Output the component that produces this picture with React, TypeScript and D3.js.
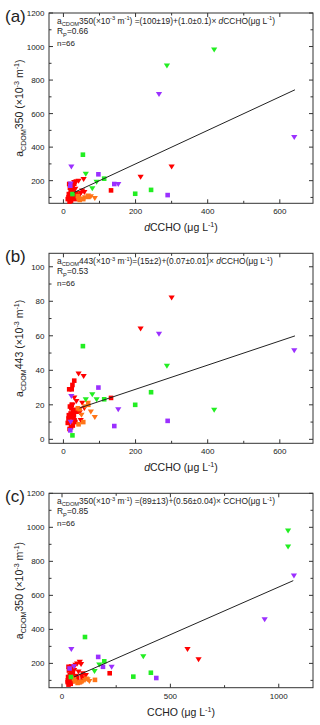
import React, { useEffect, useRef } from 'react';
import * as d3 from 'd3';

// each sample: [dCCHO, CCHO, aCDOM350, aCDOM443]
const redSquares = [
  [132, 220, 142, 24], [30, 42, 182, 34], [25, 38, 172, 31.5], [16, 30, 180, 29],
  [23, 36, 176, 29], [18, 32, 158, 19], [22, 45, 150, 18], [27, 50, 142, 16],
  [20, 36, 130, 15], [15, 28, 120, 14], [24, 42, 110, 13], [28, 55, 100, 12],
  [12, 26, 90, 9.5], [19, 33, 85, 10], [26, 48, 95, 8], [21, 40, 80, 7],
  [17, 30, 75, 6], [31, 60, 105, 11], [35, 65, 125, 17], [14, 27, 100, 12],
  [29, 70, 115, 14], [23, 44, 135, 20], [33, 80, 90, 10], [38, 95, 110, 16],
  [20, 50, 165, 13],
];
const redTriangles = [
  [300, 579, 283, 82], [214, 630, 222, 64], [56, 82, 208, 36.5], [42, 70, 198, 38],
  [36, 88, 195, 22], [30, 62, 190, 24], [52, 96, 140, 21], [48, 90, 125, 11],
  [45, 100, 115, 15.5], [26, 56, 160, 20], [33, 76, 150, 17], [58, 110, 130, 18],
];
const orangeSquares = [
  [69, 152, 103, 20], [42, 60, 95, 8.7], [40, 56, 108, 18], [45, 72, 85, 17.5], [55, 82, 90, 10],
];
const orangeTriangles = [
  [76, 118, 105, 16], [87, 126, 95, 12.8], [60, 106, 100, 19], [68, 112, 110, 21], [50, 96, 92, 14],
];
const purpleSquares = [
  [97, 167, 238, 30], [289, 435, 114, 10.7], [141, 189, 180, 7.7], [19, 35, 170, 5.2],
];
const purpleTriangles = [
  [265, 1070, 715, 61], [640, 935, 458, 51.4], [22, 43, 283, 25], [152, 229, 178, 17.2], [20, 55, 182, 10],
];
const greenSquares = [
  [54, 106, 355, 54], [113, 195, 212, 23.2], [199, 329, 122, 20], [243, 410, 145, 27.3], [25, 41, 120, 2.3],
];
const greenTriangles = [
  [418, 1043, 980, 17], [287, 1043, 885, 42.5], [62, 375, 240, 23], [92, 172, 192, 23], [80, 150, 153, 26],
];

const xTicksD = [0, 200, 400, 600];
const xTicksC = [0, 500, 1000];
const yTicks350 = [200, 400, 600, 800, 1000, 1200];
const yTicks443 = [0, 20, 40, 60, 80, 100];

const RED = '#ff0000';
const ORANGE = '#ff7518';
const PURPLE = '#9b30ff';
const GREEN = '#22ee22';

const groups = [
  { data: redSquares, color: RED, shape: 'sq' },
  { data: redTriangles, color: RED, shape: 'tri' },
  { data: orangeSquares, color: ORANGE, shape: 'sq' },
  { data: orangeTriangles, color: ORANGE, shape: 'tri' },
  { data: purpleSquares, color: PURPLE, shape: 'sq' },
  { data: purpleTriangles, color: PURPLE, shape: 'tri' },
  { data: greenSquares, color: GREEN, shape: 'sq' },
  { data: greenTriangles, color: GREEN, shape: 'tri' },
];

type Part = { t: string; sub?: boolean; sup?: boolean; it?: boolean };

const aLabel = (wl: string): Part[] => [
  { t: 'a' }, { t: 'CDOM', sub: true }, { t: wl },
];
const unitPart: Part[] = [
  { t: '(×10' }, { t: '-3', sup: true }, { t: ' m' }, { t: '-1', sup: true }, { t: ')' },
];
const ugL = (pre: Part[]): Part[] => [...pre, { t: '(μg L' }, { t: '-1', sup: true }, { t: ')' }];

const panels = [
  {
    label: '(a)', top: 13, bottom: 203.3, xi: 0, yi: 2,
    xDomain: [-40, 692], yDomain: [65, 1200], xTicks: xTicksD, xMinor: 100, yTicks: yTicks350, yMinor: 100,
    fit: [100, 1.0], fitRange: [30, 642],
    eq: [...aLabel('350'), ...unitPart, { t: ' =(100±19)+(1.0±0.1)× ' }, { t: 'd', it: true }, ...ugL([{ t: 'CCHO' }])],
    r: '=0.66',
    xTitle: [{ t: 'd', it: true }, { t: 'CCHO ' }, ...ugL([])],
    yTitle: [...aLabel('350'), { t: ' ' }, ...unitPart],
  },
  {
    label: '(b)', top: 253.3, bottom: 443.3, xi: 0, yi: 3,
    xDomain: [-40, 692], yDomain: [-2.3, 107.8], xTicks: xTicksD, xMinor: 100, yTicks: yTicks443, yMinor: 10,
    fit: [15, 0.07], fitRange: [45, 642],
    eq: [...aLabel('443'), ...unitPart, { t: '=(15±2)+(0.07±0.01)× ' }, { t: 'd', it: true }, ...ugL([{ t: 'CCHO' }])],
    r: '=0.53',
    xTitle: [{ t: 'd', it: true }, { t: 'CCHO ' }, ...ugL([])],
    yTitle: [...aLabel('443'), { t: ' ' }, ...unitPart],
  },
  {
    label: '(c)', top: 493.3, bottom: 687.7, xi: 1, yi: 2,
    xDomain: [-60, 1158], yDomain: [57, 1200], xTicks: xTicksC, xMinor: 250, yTicks: yTicks350, yMinor: 100,
    fit: [89, 0.56], fitRange: [55, 1067],
    eq: [...aLabel('350'), ...unitPart, { t: ' =(89±13)+(0.56±0.04)× CCHO' }, ...ugL([])],
    r: '=0.85',
    xTitle: [{ t: 'CCHO ' }, ...ugL([])],
    yTitle: [...aLabel('350'), { t: ' ' }, ...unitPart],
  },
];

const LEFT = 49;
const RIGHT = 313;
const FONT = 'Arial, "Liberation Sans", sans-serif';

function richText(g: any, x: number, y: number, parts: Part[], size: number, anchor: string, rotate = false) {
  const text = g.append('text')
    .attr('x', x).attr('y', y)
    .attr('text-anchor', anchor)
    .attr('font-size', size)
    .attr('font-family', FONT)
    .attr('fill', '#222');
  if (rotate) text.attr('transform', `rotate(-90,${x},${y})`);
  let off = 0;
  parts.forEach((p) => {
    const target = p.sub ? size * 0.3 : p.sup ? -size * 0.38 : 0;
    const ts = text.append('tspan')
      .attr('dy', target - off)
      .attr('font-size', p.sub || p.sup ? size * 0.68 : size)
      .text(p.t);
    if (p.it) ts.attr('font-style', 'italic');
    off = target;
  });
  return text;
}

const ChartPanels = () => {
  const ref = useRef<SVGSVGElement>(null);

  useEffect(() => {
    if (!ref.current) return;
    const svg = d3.select(ref.current);
    svg.selectAll('*').remove();

    panels.forEach((p) => {
      const g = svg.append('g');
      const x = d3.scaleLinear().domain(p.xDomain).range([LEFT, RIGHT]);
      const y = d3.scaleLinear().domain(p.yDomain).range([p.bottom, p.top]);

      // frame
      g.append('rect')
        .attr('x', LEFT).attr('y', p.top)
        .attr('width', RIGHT - LEFT).attr('height', p.bottom - p.top)
        .attr('fill', 'none').attr('stroke', '#333').attr('stroke-width', 1);

      // ticks (inward, all four sides)
      const xMinorVals = d3.range(0, p.xDomain[1], p.xMinor).filter((v) => !p.xTicks.includes(v));
      const yMinorVals = d3.range(Math.ceil(p.yDomain[0] / p.yMinor) * p.yMinor, p.yDomain[1], p.yMinor)
        .filter((v) => !p.yTicks.includes(v));
      const tick = (x1: number, y1: number, x2: number, y2: number) =>
        g.append('line').attr('x1', x1).attr('y1', y1).attr('x2', x2).attr('y2', y2)
          .attr('stroke', '#333').attr('stroke-width', 1);
      p.xTicks.forEach((v) => { tick(x(v), p.bottom, x(v), p.bottom - 4); tick(x(v), p.top, x(v), p.top + 4); });
      xMinorVals.forEach((v) => { tick(x(v), p.bottom, x(v), p.bottom - 2.5); tick(x(v), p.top, x(v), p.top + 2.5); });
      p.yTicks.forEach((v) => { tick(LEFT, y(v), LEFT + 4, y(v)); tick(RIGHT, y(v), RIGHT - 4, y(v)); });
      yMinorVals.forEach((v) => { tick(LEFT, y(v), LEFT + 2.5, y(v)); tick(RIGHT, y(v), RIGHT - 2.5, y(v)); });

      // tick labels
      p.xTicks.forEach((v) => {
        g.append('text').attr('x', x(v)).attr('y', p.bottom + 11)
          .attr('text-anchor', 'middle').attr('font-size', 8).attr('font-family', FONT).attr('fill', '#222')
          .text(v);
      });
      p.yTicks.forEach((v) => {
        g.append('text').attr('x', LEFT - 4.5).attr('y', y(v) + 3)
          .attr('text-anchor', 'end').attr('font-size', 8).attr('font-family', FONT).attr('fill', '#222')
          .text(v);
      });

      // markers
      groups.forEach((grp) => {
        const path = grp.shape === 'sq' ? 'M-2.3,-2.3h4.6v4.6h-4.6z' : 'M-3.1,-2.3L3.1,-2.3L0,2.7Z';
        g.append('g').selectAll('path').data(grp.data).join('path')
          .attr('d', path)
          .attr('transform', (d: number[]) => `translate(${x(d[p.xi])},${y(d[p.yi])})`)
          .attr('fill', grp.color);
      });

      // fit line
      const fitLine = d3.line<number>().x((v) => x(v)).y((v) => y(p.fit[0] + p.fit[1] * v));
      g.append('path').datum(p.fitRange).attr('d', fitLine)
        .attr('fill', 'none').attr('stroke', '#222').attr('stroke-width', 1);

      // annotation
      const ex = 57;
      richText(g, ex, p.top + 10.5, p.eq, 8.4, 'start');
      richText(g, ex, p.top + 21, [{ t: 'R' }, { t: 'P', sub: true }, { t: p.r }], 8.4, 'start');
      richText(g, ex, p.top + 33, [{ t: 'n=66' }], 8, 'start');

      // panel label
      g.append('text').attr('x', 5).attr('y', p.top + 9)
        .attr('font-size', 17).attr('font-family', FONT).attr('fill', '#222')
        .text(p.label);

      // axis titles
      richText(g, (LEFT + RIGHT) / 2, p.bottom + 28, p.xTitle, 10.5, 'middle');
      richText(g, 23, (p.top + p.bottom) / 2, p.yTitle, 10.5, 'middle', true);
    });
  }, []);

  return (
    <div>
      <style>{'body{margin:0;background:#fff}'}</style>
      <svg ref={ref} width={320} height={725} style={{ display: 'block' }} />
    </div>
  );
};

export default function App() {
  return <ChartPanels />;
}
